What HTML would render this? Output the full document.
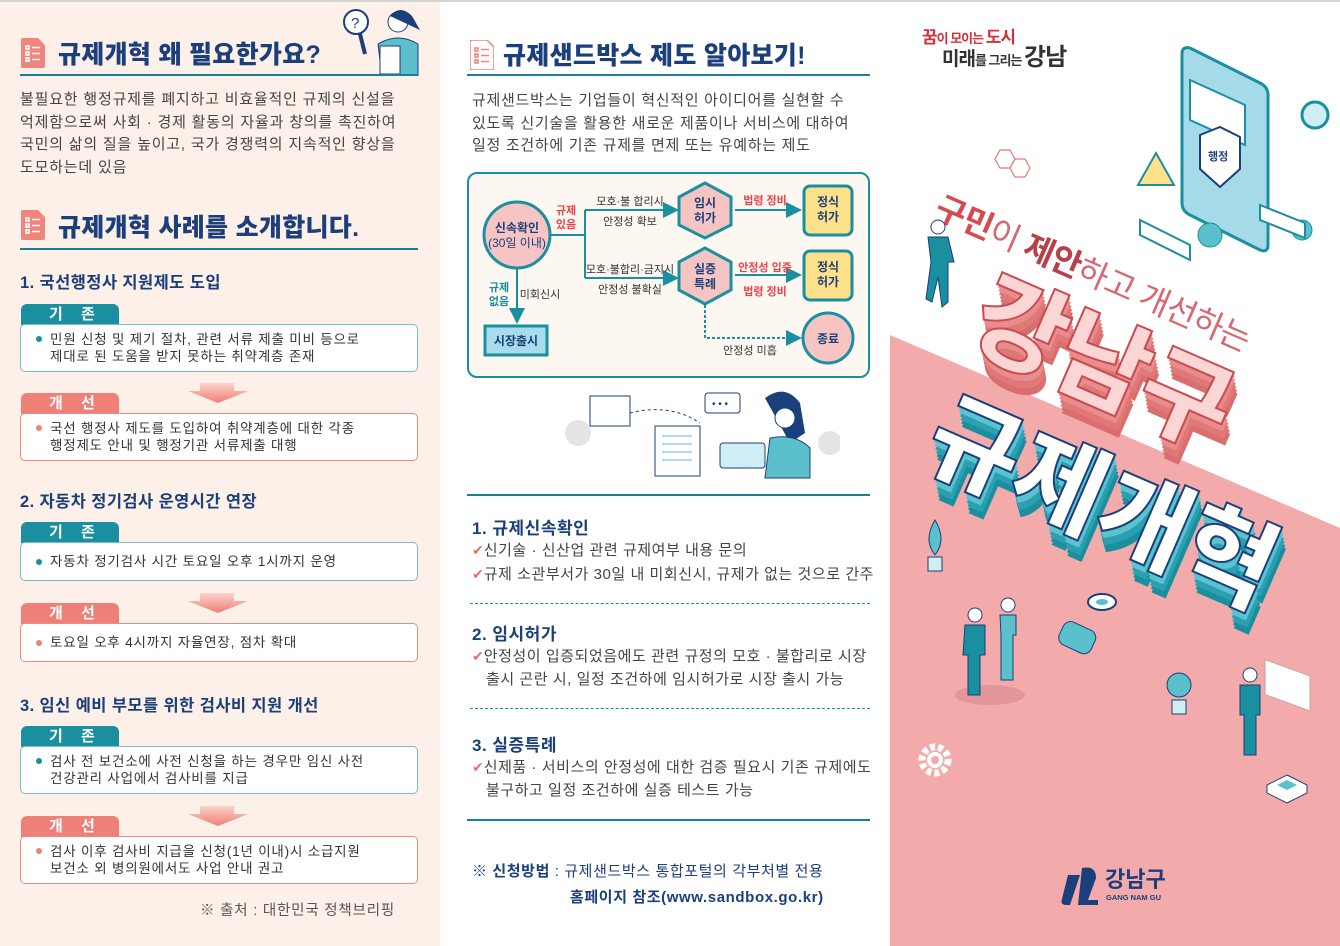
<!DOCTYPE html>
<html><head><meta charset="utf-8">
<style>
*{margin:0;padding:0;box-sizing:border-box}
body{width:1340px;height:946px;position:relative;overflow:hidden;background:#fff;font-family:"Liberation Sans","Noto Sans CJK KR",sans-serif;color:#3a3a3a}
.a{position:absolute;white-space:nowrap}
.t{font-size:25px;font-weight:900;color:#1b3f7a;letter-spacing:0.3px;line-height:30px}
.p{font-size:15px;line-height:22.5px;color:#444;letter-spacing:0.8px}
.h{font-size:16.5px;font-weight:bold;color:#1b3f7a;line-height:22px;letter-spacing:0.4px}
.tab{position:absolute;left:21px;width:98px;height:21px;border-radius:6px 6px 0 0;color:#fff;font-weight:bold;font-size:15px;line-height:21px;padding-left:28px;letter-spacing:7px}
.box{position:absolute;left:20px;width:398px;border-radius:5px;background:#fff;border:1.5px solid}
.bt{position:absolute;left:50px;font-size:13.5px;line-height:17px;color:#333;letter-spacing:0.8px}
.dot{position:absolute;left:36px;width:6px;height:6px;border-radius:50%}
.m{font-size:15px;line-height:22.5px;color:#444;letter-spacing:0.55px}
.chk{color:#ee6b6b;font-size:14px;letter-spacing:0}
</style></head><body>
<div class="a" style="left:0;top:0;width:1340px;height:2px;background:#d4d4d4"></div>
<!-- LEFT -->
<div class="a" style="left:0;top:2px;width:440px;height:944px;background:#fdf0e8"></div>
<svg class="a" style="left:21px;top:38px" width="24" height="30" viewBox="0 0 24 30"><path d="M2 0h15l7 7v21a2 2 0 0 1-2 2H2a2 2 0 0 1-2-2V2a2 2 0 0 1 2-2z" fill="#ef857c"/><g fill="none" stroke="#fff" stroke-width="1.6"><rect x="5" y="8" width="3" height="3"/><rect x="5" y="14" width="3" height="3"/><rect x="5" y="20" width="3" height="3"/><path d="M11 9.5h8M11 15.5h8M11 21.5h8"/></g></svg>
<div class="a t" style="left:58px;top:40px">규제개혁 왜 필요한가요?</div>
<svg class="a" style="left:338px;top:4px" width="86" height="72"><circle cx="18" cy="18" r="12" fill="#fff" stroke="#1b3f7a" stroke-width="2"/><text x="13" y="24" font-size="15" fill="#1b3f7a" font-family="Liberation Sans">?</text><path d="M22 30l5 20" stroke="#1b3f7a" stroke-width="4"/><path d="M40 40q20-12 40 0v32H44z" fill="#5bbfcc" stroke="#1b3f7a"/><circle cx="60" cy="18" r="10" fill="#fff" stroke="#1b3f7a"/><path d="M52 12q10-12 22 0l8 14" fill="#1b3f7a"/><rect x="42" y="42" width="20" height="28" fill="#fff" stroke="#1b3f7a"/></svg>
<div class="a" style="left:20px;top:74px;width:398px;height:1.5px;background:#1a8097"></div>
<div class="a p" style="left:20px;top:89px">불필요한 행정규제를 폐지하고 비효율적인 규제의 신설을<br>억제함으로써 사회 · 경제 활동의 자율과 창의를 촉진하여<br>국민의 삶의 질을 높이고, 국가 경쟁력의 지속적인 향상을<br>도모하는데 있음</div>
<svg class="a" style="left:21px;top:210px" width="24" height="30" viewBox="0 0 24 30"><path d="M2 0h15l7 7v21a2 2 0 0 1-2 2H2a2 2 0 0 1-2-2V2a2 2 0 0 1 2-2z" fill="#ef857c"/><g fill="none" stroke="#fff" stroke-width="1.6"><rect x="5" y="8" width="3" height="3"/><rect x="5" y="14" width="3" height="3"/><rect x="5" y="20" width="3" height="3"/><path d="M11 9.5h8M11 15.5h8M11 21.5h8"/></g></svg>
<div class="a t" style="left:58px;top:213px">규제개혁 사례를 소개합니다.</div>
<div class="a" style="left:20px;top:248px;width:398px;height:1.5px;background:#1a8097"></div>

<div class="a h" style="left:20px;top:272px">1. 국선행정사 지원제도 도입</div>
<div class="tab" style="top:304px;background:#1a8fa0">기 존</div>
<div class="box" style="top:324px;height:48px;border-color:#7bbcc6"></div>
<div class="dot" style="top:336px;background:#1a8fa0"></div>
<div class="bt" style="top:331px">민원 신청 및 제기 절차, 관련 서류 제출 미비 등으로<br>제대로 된 도움을 받지 못하는 취약계층 존재</div>
<svg class="a" style="left:186px;top:383px" width="64" height="20"><defs><linearGradient id="g" x1="0" y1="0" x2="0" y2="1"><stop offset="0" stop-color="#fbd3cc"/><stop offset="1" stop-color="#ef7f74"/></linearGradient></defs><path d="M14 0h34v8h14L32 20 2 8h12z" fill="url(#g)"/></svg>
<div class="tab" style="top:393px;background:#ef8078">개 선</div>
<div class="box" style="top:413px;height:48px;border-color:#ef8a82"></div>
<div class="dot" style="top:425px;background:#ef8078"></div>
<div class="bt" style="top:420px">국선 행정사 제도를 도입하여 취약계층에 대한 각종<br>행정제도 안내 및 행정기관 서류제출 대행</div>

<div class="a h" style="left:20px;top:491px">2. 자동차 정기검사 운영시간 연장</div>
<div class="tab" style="top:522px;background:#1a8fa0">기 존</div>
<div class="box" style="top:542px;height:39px;border-color:#7bbcc6"></div>
<div class="dot" style="top:559px;background:#1a8fa0"></div>
<div class="bt" style="top:553px">자동차 정기검사 시간 토요일 오후 1시까지 운영</div>
<svg class="a" style="left:186px;top:593px" width="64" height="20"><path d="M14 0h34v8h14L32 20 2 8h12z" fill="url(#g)"/></svg>
<div class="tab" style="top:603px;background:#ef8078">개 선</div>
<div class="box" style="top:623px;height:39px;border-color:#ef8a82"></div>
<div class="dot" style="top:640px;background:#ef8078"></div>
<div class="bt" style="top:634px">토요일 오후 4시까지 자율연장, 점차 확대</div>

<div class="a h" style="left:20px;top:695px">3. 임신 예비 부모를 위한 검사비 지원 개선</div>
<div class="tab" style="top:726px;background:#1a8fa0">기 존</div>
<div class="box" style="top:746px;height:48px;border-color:#7bbcc6"></div>
<div class="dot" style="top:758px;background:#1a8fa0"></div>
<div class="bt" style="top:753px">검사 전 보건소에 사전 신청을 하는 경우만 임신 사전<br>건강관리 사업에서 검사비를 지급</div>
<svg class="a" style="left:186px;top:806px" width="64" height="20"><path d="M14 0h34v8h14L32 20 2 8h12z" fill="url(#g)"/></svg>
<div class="tab" style="top:816px;background:#ef8078">개 선</div>
<div class="box" style="top:836px;height:48px;border-color:#ef8a82"></div>
<div class="dot" style="top:848px;background:#ef8078"></div>
<div class="bt" style="top:843px">검사 이후 검사비 지급을 신청(1년 이내)시 소급지원<br>보건소 외 병의원에서도 사업 안내 권고</div>
<div class="a" style="left:200px;top:899px;font-size:14.5px;color:#555;letter-spacing:0.8px">※ 출처 : 대한민국 정책브리핑</div>

<!-- MIDDLE -->
<svg class="a" style="left:470px;top:40px" width="24" height="30" viewBox="0 0 24 30"><path d="M2 0h15l7 7v21a2 2 0 0 1-2 2H2a2 2 0 0 1-2-2V2a2 2 0 0 1 2-2z" fill="#fff" stroke="#ef857c" stroke-width="1.5"/><g fill="none" stroke="#ef857c" stroke-width="1.6"><rect x="5" y="8" width="3" height="3"/><rect x="5" y="14" width="3" height="3"/><rect x="5" y="20" width="3" height="3"/><path d="M11 9.5h8M11 15.5h8M11 21.5h8"/></g></svg>
<div class="a t" style="left:503px;top:41px">규제샌드박스 제도 알아보기!</div>
<div class="a" style="left:467px;top:74px;width:403px;height:1.5px;background:#1a8097"></div>
<div class="a m" style="left:472px;top:90px;letter-spacing:0.7px">규제샌드박스는 기업들이 혁신적인 아이디어를 실현할 수<br>있도록 신기술을 활용한 새로운 제품이나 서비스에 대하여<br>일정 조건하에 기존 규제를 면제 또는 유예하는 제도</div>

<div class="a" style="left:467px;top:172px;width:403px;height:206px;border:2px solid #1a8fa0;border-radius:10px;background:#fdf7f2"></div>
<svg class="a" style="left:467px;top:172px" width="403" height="206" viewBox="467 172 403 206">
<defs><marker id="ar" markerWidth="8" markerHeight="8" refX="6" refY="4" orient="auto"><path d="M0 0L8 4L0 8z" fill="#1a8fa0"/></marker></defs>
<g stroke="#1a8fa0" stroke-width="2" fill="none">
<path d="M550 235H585M585 210V278M585 210H675" marker-end="url(#ar)"/>
<path d="M585 278H675" marker-end="url(#ar)"/>
<path d="M735 210H798" marker-end="url(#ar)"/>
<path d="M735 275H798" marker-end="url(#ar)"/>
<path d="M517 268V320" marker-end="url(#ar)"/>
<path d="M705 305V338H798" stroke-dasharray="3 2" marker-end="url(#ar)"/>
</g>
<circle cx="517" cy="235" r="33" fill="#f7c4c4" stroke="#1a8fa0" stroke-width="3"/>
<polygon points="705,183 731,197 731,225 705,238 679,225 679,197" fill="#f7c4c4" stroke="#1a8fa0" stroke-width="3"/>
<polygon points="705,248 731,262 731,290 705,304 679,290 679,262" fill="#f7c4c4" stroke="#1a8fa0" stroke-width="3"/>
<rect x="804" y="186" width="48" height="49" rx="6" fill="#fde08a" stroke="#1a8fa0" stroke-width="3"/>
<rect x="804" y="251" width="48" height="49" rx="6" fill="#fde08a" stroke="#1a8fa0" stroke-width="3"/>
<circle cx="828" cy="338" r="25" fill="#f7c4c4" stroke="#1a8fa0" stroke-width="3"/>
<rect x="485" y="326" width="62" height="29" fill="#a8dced" stroke="#1a8fa0" stroke-width="3"/>
<g font-family="Liberation Sans,Noto Sans CJK KR,sans-serif" font-weight="bold" fill="#1b3f7a" text-anchor="middle" font-size="12">
<text x="517" y="232">신속확인</text><text x="517" y="247" font-weight="normal">(30일 이내)</text>
<text x="705" y="207">임시</text><text x="705" y="222">허가</text>
<text x="705" y="273">실증</text><text x="705" y="288">특례</text>
<text x="828" y="206">정식</text><text x="828" y="221">허가</text>
<text x="828" y="271">정식</text><text x="828" y="286">허가</text>
<text x="828" y="343">종료</text><text x="516" y="345">시장출시</text>
</g>
<g font-family="Liberation Sans,Noto Sans CJK KR,sans-serif" font-size="11" text-anchor="middle">
<g fill="#e8434b" font-weight="bold"><text x="566" y="214">규제</text><text x="566" y="228">있음</text><text x="765" y="204">법령 정비</text><text x="765" y="271">안정성 입증</text><text x="765" y="295">법령 정비</text></g>
<g fill="#1a8fa0" font-weight="bold"><text x="499" y="291">규제</text><text x="499" y="305">없음</text></g>
<g fill="#333"><text x="630" y="205">모호·불 합리시</text><text x="630" y="225">안정성 확보</text><text x="630" y="273">모호·불합리·금지시</text><text x="630" y="293">안정성 불확실</text><text x="540" y="298">미회신시</text><text x="750" y="354">안정성 미흡</text></g>
</g></svg>

<svg class="a" style="left:560px;top:388px" width="280" height="95">
<g fill="#e4e4e4"><circle cx="18" cy="45" r="13"/><circle cx="270" cy="55" r="12"/></g>
<rect x="30" y="8" width="40" height="30" fill="#fff" stroke="#1b3f7a"/><path d="M70 25q40-10 70 10" stroke="#1b3f7a" fill="none" stroke-dasharray="3 3"/>
<rect x="145" y="5" width="35" height="20" rx="3" fill="#fff" stroke="#1b3f7a"/><text x="152" y="19" font-size="10" fill="#1b3f7a">• • •</text>
<rect x="95" y="38" width="45" height="50" fill="#fff" stroke="#1b3f7a"/><path d="M102 48h30M102 56h30M102 64h30M102 72h30" stroke="#5bbfcc"/>
<rect x="160" y="55" width="45" height="25" rx="3" fill="#cfeef3" stroke="#1b3f7a"/>
<path d="M205 10q20-15 35 5l5 30-15 10z" fill="#1b3f7a"/><circle cx="225" cy="30" r="10" fill="#fff" stroke="#1b3f7a"/>
<path d="M210 50q25-5 40 10v30h-45z" fill="#5bbfcc" stroke="#1b3f7a"/>
</svg>

<div class="a" style="left:467px;top:494px;width:403px;height:1.5px;background:#1a8097"></div>
<div class="a" style="left:472px;top:514px;font-size:17px;font-weight:bold;color:#1b3f7a;letter-spacing:0.5px">1. 규제신속확인</div>
<div class="a m" style="left:472px;top:539px"><span class="chk">✔</span>신기술 · 신산업 관련 규제여부 내용 문의<br><span class="chk">✔</span>규제 소관부서가 30일 내 미회신시, 규제가 없는 것으로 간주</div>
<div class="a" style="left:470px;top:603px;width:400px;border-top:1.5px dashed #1a8fa0"></div>
<div class="a" style="left:472px;top:620px;font-size:17px;font-weight:bold;color:#1b3f7a;letter-spacing:0.5px">2. 임시허가</div>
<div class="a m" style="left:472px;top:645px"><span class="chk">✔</span>안정성이 입증되었음에도 관련 규정의 모호 · 불합리로 시장<br><span style="margin-left:14px"></span>출시 곤란 시, 일정 조건하에 임시허가로 시장 출시 가능</div>
<div class="a" style="left:470px;top:708px;width:400px;border-top:1.5px dashed #1a8fa0"></div>
<div class="a" style="left:472px;top:731px;font-size:17px;font-weight:bold;color:#1b3f7a;letter-spacing:0.5px">3. 실증특례</div>
<div class="a m" style="left:472px;top:756px"><span class="chk">✔</span>신제품 · 서비스의 안정성에 대한 검증 필요시 기존 규제에도<br><span style="margin-left:14px"></span>불구하고 일정 조건하에 실증 테스트 가능</div>
<div class="a" style="left:467px;top:819px;width:403px;height:1.5px;background:#1a8097"></div>
<div class="a" style="left:472px;top:859px;font-size:15px;color:#1b3f7a;line-height:26px;letter-spacing:0.6px"><b>※ 신청방법</b> : 규제샌드박스 통합포털의 각부처별 전용<br><b style="margin-left:98px">홈페이지 참조(www.sandbox.go.kr)</b></div>

<!-- RIGHT -->
<svg class="a" style="left:890px;top:0" width="450" height="946"><polygon points="0,335 450,528 450,946 0,946" fill="#f2abaa"/></svg>
<div class="a" style="left:922px;top:28px;font-size:17px;font-weight:bold;color:#d6303a;line-height:20px;letter-spacing:-1px">꿈<span style="font-size:13px">이 모이는 </span>도시</div>
<div class="a" style="left:942px;top:46px;font-size:19px;font-weight:bold;color:#333;line-height:24px;letter-spacing:-1px">미래<span style="font-size:13px">를 그리는 </span><span style="font-size:24px">강남</span></div>
<svg class="a" style="left:1130px;top:40px" width="200" height="230">
<path d="M60 8l70 35q8 4 8 12v150q0 8-8 5l-70-35q-8-4-8-12V14q0-8 8-6z" fill="#a5dbe8" stroke="#1a8fa0" stroke-width="3"/>
<path d="M60 40l55 25v40l-55-25z" fill="#fff" stroke="#1a8fa0" stroke-width="2"/>
<path d="M8 145l18-32 18 32z" fill="#fde08a" stroke="#1a8fa0" stroke-width="2"/>
<path d="M70 95l20-8 20 10v32l-20 18-20-18z" fill="#fff" stroke="#1b3f7a" stroke-width="2"/>
<text x="78" y="120" font-size="11" font-weight="bold" fill="#1b3f7a" font-family="Liberation Sans,Noto Sans CJK KR">행정</text>
<circle cx="185" cy="75" r="13" fill="#cfeef3" stroke="#1a8fa0" stroke-width="3"/>
<circle cx="172" cy="190" r="10" fill="#5bbfcc" stroke="#1a8fa0"/>
<path d="M130 165l45 18v15l-45-18z" fill="#fff" stroke="#1a8fa0" stroke-width="2"/>
<path d="M10 180l50 25v15l-50-25z" fill="#fff" stroke="#1a8fa0" stroke-width="2"/>
<circle cx="80" cy="195" r="12" fill="#5bbfcc" stroke="#1a8fa0"/>
</svg>
<svg class="a" style="left:990px;top:145px" width="50" height="45"><g fill="none" stroke="#e87878" stroke-width="1.2"><polygon points="10,5 20,5 25,14 20,23 10,23 5,14"/><polygon points="25,14 35,14 40,23 35,32 25,32 20,23"/></g></svg>
<div class="a" style="left:945px;top:188px;transform-origin:0 0;transform:rotate(23.5deg);font-size:33px;color:#d86870;letter-spacing:-1px;line-height:40px"><b style="color:#d84a52">구민</b>이 <b style="color:#b84048">제안</b>하고 개선하는</div>
<div class="a" style="left:1000px;top:260px;transform-origin:0 0;transform:rotate(23.5deg);font-size:100px;font-weight:900;color:#fbd6d4;letter-spacing:-2px;line-height:110px;-webkit-text-stroke:2px #c94a50;text-shadow:2px 3px 0 #e88c8c,4px 6px 0 #e88c8c,6px 9px 0 #e07878,8px 12px 0 #e07878,10px 15px 0 #d86e6e,12px 18px 0 #d86e6e">강남구</div>
<div class="a" style="left:955px;top:380px;transform-origin:0 0;transform:rotate(23.5deg);font-size:100px;font-weight:900;color:#fff;letter-spacing:0px;line-height:110px;-webkit-text-stroke:2px #1b3f7a;text-shadow:2px 3px 0 #5bc3cf,4px 6px 0 #5bc3cf,6px 9px 0 #2aa0b0,8px 12px 0 #2aa0b0,10px 15px 0 #1a8f9f,12px 18px 0 #1a8f9f">규제개혁</div>
<svg class="a" style="left:920px;top:215px" width="50" height="95"><circle cx="18" cy="12" r="7" fill="#fff" stroke="#1b3f7a"/><path d="M8 22h20l6 25h-6v40l-6 5-4-30-6 25-6-3 5-37z" fill="#1a8fa0" stroke="#1b3f7a"/></svg>
<svg class="a" style="left:950px;top:590px" width="80" height="125"><ellipse cx="40" cy="105" rx="35" ry="10" fill="#e3959a"/><circle cx="25" cy="25" r="7" fill="#fff" stroke="#1b3f7a"/><path d="M15 35h20v30h-5v40h-12v-40h-5z" fill="#1a8fa0" stroke="#1b3f7a"/><circle cx="58" cy="15" r="7" fill="#fff" stroke="#1b3f7a"/><path d="M50 25h16v20h-3v45h-12v-45z" fill="#5bbfcc" stroke="#1b3f7a"/></svg>
<svg class="a" style="left:1225px;top:640px" width="95" height="120"><rect x="40" y="5" width="45" height="35" fill="#fff" stroke="#c8a0a0" transform="skewY(20)"/><circle cx="25" cy="35" r="7" fill="#fff" stroke="#1b3f7a"/><path d="M15 45h20v30h-4v40h-12v-40h-4z" fill="#1a8fa0" stroke="#1b3f7a"/></svg>
<svg class="a" style="left:920px;top:515px" width="30" height="70"><path d="M15 5q12 20 0 35q-12-15 0-35z" fill="#5bbfcc" stroke="#1b3f7a"/><rect x="8" y="42" width="14" height="14" fill="#cfeef3" stroke="#1b3f7a"/></svg>
<svg class="a" style="left:1163px;top:670px" width="32" height="50"><circle cx="16" cy="15" r="12" fill="#5bbfcc" stroke="#1b3f7a"/><rect x="9" y="30" width="14" height="14" fill="#cfeef3" stroke="#1b3f7a"/></svg>
<svg class="a" style="left:1055px;top:610px" width="60" height="60"><rect x="5" y="15" width="35" height="25" rx="8" fill="#5bbfcc" stroke="#1b3f7a" transform="rotate(25 22 27)"/></svg>
<svg class="a" style="left:1085px;top:590px" width="35" height="25"><ellipse cx="17" cy="12" rx="14" ry="8" fill="#fff" stroke="#1b3f7a" stroke-width="2"/><ellipse cx="17" cy="12" rx="6" ry="3" fill="#5bbfcc"/></svg>
<svg class="a" style="left:1265px;top:770px" width="45" height="35"><path d="M22 5l20 10v8l-20 10-20-10v-8z" fill="#fff" stroke="#1b3f7a"/><path d="M22 10l10 5-10 5-10-5z" fill="#5bbfcc"/></svg>
<svg class="a" style="left:915px;top:740px" width="40" height="40"><circle cx="20" cy="20" r="13" fill="none" stroke="#fff" stroke-width="7" stroke-dasharray="5 3"/><circle cx="20" cy="20" r="6" fill="none" stroke="#fff" stroke-width="4"/></svg>
<svg class="a" style="left:1060px;top:860px" width="110" height="50"><path d="M8 15h12l-10 30h-4q-6 0-4-6z" fill="#1b3f7a"/><path d="M22 8q14-3 14 10l-8 22h10v5h-20z" fill="#1b3f7a"/></svg>
<div class="a" style="left:1105px;top:868px;font-size:22px;font-weight:bold;color:#1b3f7a;line-height:24px">강남구</div>
<div class="a" style="left:1106px;top:893px;font-size:7.5px;font-weight:bold;color:#1b3f7a">GANG NAM GU</div>
</body></html>
